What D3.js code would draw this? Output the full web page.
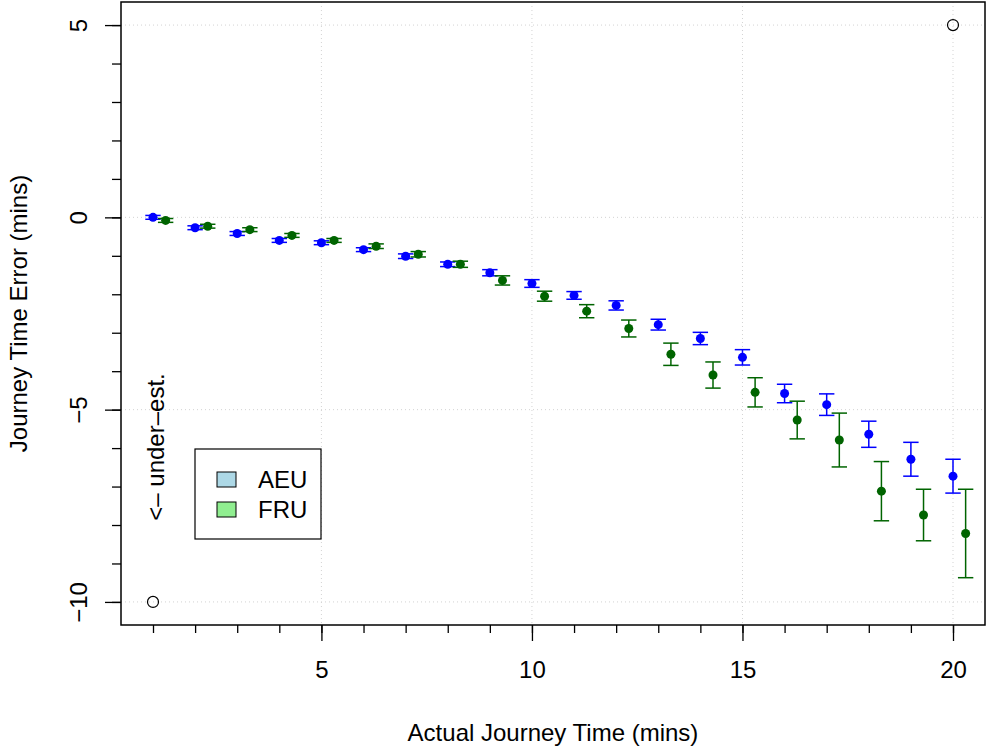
<!DOCTYPE html>
<html>
<head>
<meta charset="utf-8">
<script src="https://cdn.jsdelivr.net/npm/d3@7"></script>
<style>
  body { margin: 0; background: #fff; }
  text { font-family: "Liberation Sans", Arial, Helvetica, sans-serif; }
</style>
</head>
<body>
<svg id="chart"></svg>
<script>
// journey time minutes 1..20
const times = d3.range(1, 21)
const aeuMean = [0.0, -0.27, -0.42, -0.6, -0.66, -0.84, -1.01, -1.22, -1.44, -1.72,
                 -2.03, -2.29, -2.79, -3.15, -3.64, -4.58, -4.87, -5.64, -6.29, -6.73]
const aeuErr  = [0.05, 0.05, 0.05, 0.05, 0.05, 0.05, 0.06, 0.06, 0.08, 0.1,
                 0.1, 0.12, 0.14, 0.16, 0.2, 0.24, 0.28, 0.34, 0.44, 0.44]
const fruMean = [-0.08, -0.23, -0.32, -0.47, -0.6, -0.75, -0.96, -1.22, -1.64, -2.05,
                 -2.44, -2.89, -3.56, -4.1, -4.55, -5.27, -5.79, -7.12, -7.74, -8.22]
const fruErr  = [0.05, 0.05, 0.05, 0.05, 0.05, 0.06, 0.07, 0.08, 0.12, 0.13,
                 0.17, 0.22, 0.29, 0.34, 0.38, 0.49, 0.70, 0.77, 0.67, 1.15]
const fruOffset = 0.3
const limitPoints = [[1, -10], [20, 5]]
const legendItems = [{name: "AEU", fill: "#add8e6"}, {name: "FRU", fill: "#90ee90"}]
const xMajor = [5, 10, 15, 20]
const yMajor = [-10, -5, 0, 5]

const width = 988, height = 748
const box = {left: 121, right: 985, top: 2, bottom: 625}
const fontSize = 24

const svg = d3.select("#chart").attr("width", width).attr("height", height)

const x = d3.scaleLinear().domain([0.24, 20.76]).range([box.left, box.right])
const y = d3.scaleLinear().domain([-10.6, 5.6]).range([box.bottom, box.top])

// grid
let grid = svg.append("g").attr("stroke", "#d3d3d3").attr("stroke-dasharray", "1,3").attr("stroke-width", 1)
grid.selectAll(".gx").data(xMajor).join("line")
    .attr("x1", d => x(d)).attr("x2", d => x(d)).attr("y1", box.top).attr("y2", box.bottom)
grid.selectAll(".gy").data(yMajor).join("line")
    .attr("y1", d => y(d)).attr("y2", d => y(d)).attr("x1", box.left).attr("x2", box.right)

// axes
let xMinor = svg.append("g").attr("transform", `translate(0, ${box.bottom})`)
    .call(d3.axisBottom(x).tickValues(times).tickSize(8).tickFormat(""))
let xAxis = svg.append("g").attr("transform", `translate(0, ${box.bottom})`)
    .call(d3.axisBottom(x).tickValues(xMajor).tickSize(16).tickPadding(20).tickFormat(d3.format("d")))
let yMinor = svg.append("g").attr("transform", `translate(${box.left}, 0)`)
    .call(d3.axisLeft(y).tickValues(d3.range(-10, 6)).tickSize(9).tickFormat(""))
let yAxis = svg.append("g").attr("transform", `translate(${box.left}, 0)`)
    .call(d3.axisLeft(y).tickValues(yMajor).tickSize(16).tickFormat(d => d < 0 ? "\u2212" + Math.abs(d) : d))

svg.selectAll(".domain").remove()
svg.selectAll(".tick line").attr("stroke", "#000").attr("stroke-width", 1.3)
xAxis.selectAll("text").attr("font-size", fontSize).attr("fill", "#000")
yAxis.selectAll("text").attr("font-size", fontSize).attr("fill", "#000")
    .attr("text-anchor", "middle").attr("dy", null)
    .attr("transform", `translate(${78 - box.left}, 0) rotate(-90)`)
    .attr("x", 0).attr("y", 0).attr("dominant-baseline", "central")

svg.append("rect").attr("x", box.left).attr("y", box.top)
    .attr("width", box.right - box.left).attr("height", box.bottom - box.top)
    .attr("fill", "none").attr("stroke", "#000").attr("stroke-width", 1.5)

// axis titles
svg.append("text").text("Actual Journey Time (mins)")
    .attr("x", (box.left + box.right) / 2).attr("y", 741).attr("text-anchor", "middle").attr("font-size", fontSize)
svg.append("text").text("Journey Time Error (mins)")
    .attr("transform", `translate(27, ${(box.top + box.bottom) / 2}) rotate(-90)`)
    .attr("text-anchor", "middle").attr("font-size", fontSize)

// error bars + points
function drawSeries(means, errs, offset, color) {
    let g = svg.append("g").attr("stroke", color).attr("stroke-width", 1.5)
    let data = times.map((t, i) => ({t: t + offset, m: means[i], e: errs[i]}))
    let cap = 7.7
    g.selectAll(".v").data(data).join("line")
        .attr("x1", d => x(d.t)).attr("x2", d => x(d.t))
        .attr("y1", d => y(d.m - d.e)).attr("y2", d => y(d.m + d.e))
    g.selectAll(".top").data(data).join("line")
        .attr("x1", d => x(d.t) - cap).attr("x2", d => x(d.t) + cap)
        .attr("y1", d => y(d.m + d.e)).attr("y2", d => y(d.m + d.e))
    g.selectAll(".bot").data(data).join("line")
        .attr("x1", d => x(d.t) - cap).attr("x2", d => x(d.t) + cap)
        .attr("y1", d => y(d.m - d.e)).attr("y2", d => y(d.m - d.e))
    svg.append("g").selectAll("circle").data(data).join("circle")
        .attr("cx", d => x(d.t)).attr("cy", d => y(d.m)).attr("r", 4.5).attr("fill", color)
}
drawSeries(aeuMean, aeuErr, 0, "#0000ff")
drawSeries(fruMean, fruErr, fruOffset, "#006400")

svg.append("g").selectAll("circle").data(limitPoints).join("circle")
    .attr("cx", d => x(d[0])).attr("cy", d => y(d[1])).attr("r", 5.5)
    .attr("fill", "none").attr("stroke", "#000").attr("stroke-width", 1.2)

// annotation
svg.append("text").text("<\u2013 under\u2013est.")
    .attr("transform", `translate(164, 447) rotate(-90)`)
    .attr("text-anchor", "middle").attr("font-size", fontSize)

// legend
let legend = svg.append("g")
legend.append("rect").attr("x", 195).attr("y", 449).attr("width", 126).attr("height", 90)
    .attr("fill", "#fff").attr("stroke", "#000").attr("stroke-width", 1.2)
legend.selectAll(".sw").data(legendItems).join("rect")
    .attr("x", 217).attr("y", (d, i) => 472 + i * 30).attr("width", 19).attr("height", 15)
    .attr("fill", d => d.fill).attr("stroke", "#000").attr("stroke-width", 1)
legend.selectAll(".lt").data(legendItems).join("text")
    .text(d => d.name).attr("x", 258).attr("y", (d, i) => 488 + i * 30).attr("font-size", fontSize)
</script>
</body>
</html>
